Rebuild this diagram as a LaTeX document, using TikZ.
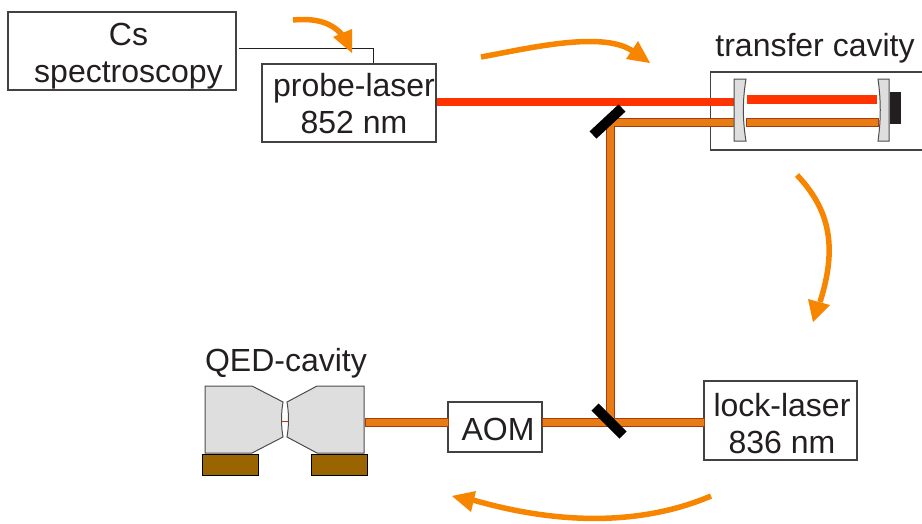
\documentclass[tikz,border=0pt]{standalone}
\usepackage{fontspec}
\setmainfont{Liberation Sans}
\definecolor{beamO}{HTML}{E87C14}
\definecolor{beamE}{HTML}{A83A10}
\definecolor{beamR}{HTML}{FF3300}
\definecolor{arrO}{HTML}{F78500}
\definecolor{brownB}{HTML}{9A6500}
\definecolor{greyM}{HTML}{DEDEDE}
\definecolor{inkT}{HTML}{231F20}
\tikzset{
  x=1pt,y=-1pt,
  labelbox/.style={draw=inkT!85,line width=1.1pt,inner sep=0pt,fill=white},
  lbl/.style={text=inkT,inner sep=0pt,align=center,font=\fontsize{32}{37}\selectfont},
  obeam/.style={draw=beamE,fill=beamO,line width=1pt},
  rbeam/.style={fill=beamR},
  mirr/.style={draw=black,line width=10pt},
  optic/.style={draw=inkT!80,fill=greyM,line width=1pt},
  flow/.style={draw=arrO,line width=5.5pt},
  flowh/.style={fill=arrO},
}
\begin{document}
\begin{tikzpicture}
\useasboundingbox (0,0) rectangle (922,523);
% boxes
\node[labelbox,minimum width=228pt,minimum height=78pt] (cs) at (122,51) {};
\node[labelbox,minimum width=174pt,minimum height=78pt] (probe) at (349,103) {};
\node[labelbox,minimum width=153pt,minimum height=79pt] (lock) at (780.5,420.5) {};
\node[labelbox,minimum width=94pt,minimum height=50pt] (aom) at (495,427) {};
\node[lbl] (cst) at (128.5,56.5) {Cs\\spectroscopy};
\node[lbl] (probet) at (354,104) {probe-laser\\852 nm};
\node[lbl] (lockt) at (782,424) {lock-laser\\836 nm};
\node[lbl] (aomt) at (498,429.5) {AOM};
\node[lbl] (tc) at (815,48) {transfer cavity};
\node[lbl] (qed) at (286,363.5) {QED-cavity};
% cavity housing, open at the picture edge
\coordinate (hA) at (922,72);
\coordinate (hB) at (710.5,72);
\coordinate (hC) at (710.5,150);
\coordinate (hD) at (922,150);
\draw[draw=inkT!85,line width=1.1pt] (hA) -- (hB) -- (hC) -- (hD);
% electrical link
\coordinate (e1) at (239,48.5);
\coordinate (e2) at (373.5,48.5);
\draw[inkT,line width=.8pt] (e1) -- (e2) -- (e2 |- probe.north);
% beams
\fill[rbeam] (probe.east |- 0,97.5) rectangle (734,106);
\fill[rbeam] (747,95) rectangle (877,104);
\draw[obeam] (606,422) -- (606,118) -- (734,118) -- (734,126) -- (614,126) -- (614,422);
\draw[obeam] (746,118) rectangle (878,126);
\draw[obeam] (365,418) rectangle (448,426);
\draw[obeam] (542,418) rectangle (704,426);
\fill[beamO] (606.6,410) rectangle (613.4,419);
% mirrors
\coordinate (m1a) at (593,135); \coordinate (m1b) at (622,108);
\coordinate (m2a) at (595,407); \coordinate (m2b) at (623,435);
\draw[mirr] (m1a) -- (m1b);
\draw[mirr] (m2a) -- (m2b);
% cavity mirrors
\draw[optic] (734,79) -- (746,79) .. controls (742.5,100) and (742.5,120) .. (746,141) -- (734,141) -- cycle;
\draw[optic] (878,79) -- (889,79) -- (889,141) -- (878,141) .. controls (881,120) and (881,100) .. (878,79) -- cycle;
\fill[inkT] (889.5,92) rectangle (901,124);
% QED cavity
\draw[optic] (205,386) -- (252,386) -- (283,402) .. controls (281,414) and (281,425) .. (283,437) -- (252,453) -- (205,453) -- cycle;
\draw[optic] (364,386) -- (317,386) -- (287,402) .. controls (289,414) and (289,425) .. (287,437) -- (317,453) -- (364,453) -- cycle;
\draw[beamE,line width=.8pt] (282,421.5) -- (288,421.5);
\draw[draw=black,fill=brownB,line width=1pt] (202.5,454.5) rectangle (258,475);
\draw[draw=black,fill=brownB,line width=1pt] (311.5,454.5) rectangle (367,475);
% flow arrows
\draw[flow] (293,20) .. controls (315,18) and (332,22) .. (343,36);
\fill[flowh] (352,53) -- (333,37) -- (352,29) -- cycle;
\draw[flow] (481,57) .. controls (530,48) and (605,30) .. (634,52);
\fill[flowh] (650,63) -- (626,59) -- (638,41) -- cycle;
\draw[flow] (797,175) .. controls (825,205) and (840,240) .. (820,302);
\fill[flowh] (813,322) -- (808,299) -- (830,305) -- cycle;
\draw[flow] (711,496) .. controls (650,522) and (570,528) .. (473,500);
\fill[flowh] (452,496) -- (476,491) -- (471,512) -- cycle;
\end{tikzpicture}
\end{document}
